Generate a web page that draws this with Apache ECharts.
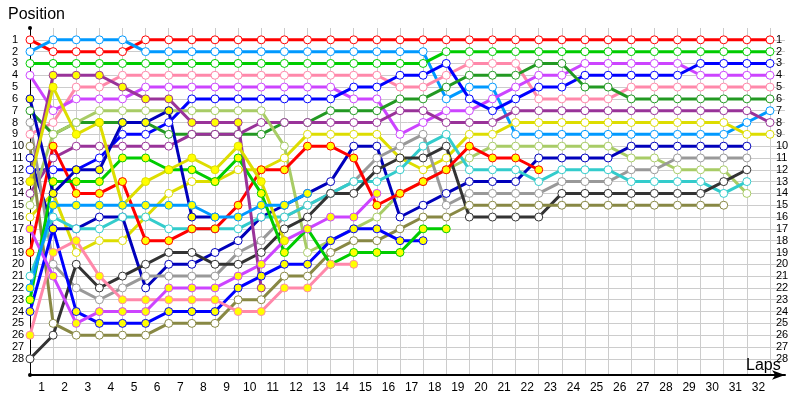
<!DOCTYPE html>
<html>
<head>
<meta charset="utf-8">
<script src="https://cdn.jsdelivr.net/npm/echarts@6/dist/echarts.min.js"></script>
<style>
  html, body { margin: 0; padding: 0; background: #fff; }
  #chart { width: 800px; height: 400px; }
</style>
</head>
<body>
<div id="chart"></div>
<script>
// lap labels along the bottom
const lapLabels = ['1','2','3','4','5','6','7','8','9','10','11','12','13','14','15','16',
  '17','18','19','20','21','22','23','24','25','26','27','28','29','30','31','32']

// position per lap (index 0 = grid, 1..32 = laps), null = not running
const redW = [1,2,2,2,2,1,1,1,1,1,1,1,1,1,1,1,1,1,1,1,1,1,1,1,1,1,1,1,1,1,1,1,1]
const lblueW = [2,1,1,1,1,2,2,2,2,2,2,2,2,2,2,2,2,2,6,5,5,9,9,9,9,9,9,9,9,9,9,8,7]
const greenW = [3,3,3,3,3,3,3,3,3,3,3,3,3,3,3,3,3,3,2,2,2,2,2,2,2,2,2,2,2,2,2,2,2]
const pinkW = [9,8,5,5,4,4,4,4,4,4,4,4,4,4,4,4,5,5,4,3,3,3,6,6,6,6,5,5,5,5,5,5,5]
const violetW = [4,7,6,6,6,5,5,5,5,5,5,5,5,5,6,6,9,8,7,7,6,5,4,4,3,3,3,3,3,4,4,4,4]
const blueW = [12,12,12,11,9,9,8,6,6,6,6,6,6,6,5,5,4,4,3,6,7,6,5,5,4,4,4,4,4,3,3,3,3]
const dkgreenW = [7,9,8,8,8,8,9,9,9,9,9,8,8,7,7,7,6,6,5,4,4,4,3,3,5,5,6,6,6,6,6,6,6]
const purpleW = [14,11,10,10,10,10,10,9,9,9,8,8,8,8,8,8,7,7,8,8,8,7,7,7,7,7,7,7,7,7,7,7,8]
const yellowW = [16,14,19,18,18,16,14,13,13,12,12,11,9,9,9,9,11,12,11,9,9,8,8,8,8,8,8,8,8,8,8,9,9]
const lgreenW = [15,9,8,7,7,7,7,7,7,7,7,10,19,18,17,16,14,13,12,11,10,10,10,10,10,10,11,11,12,12,12,14,null]
const dkblueW = [11,17,17,16,16,22,20,20,19,18,16,15,14,13,10,10,16,15,14,13,13,13,11,11,11,11,10,10,10,10,10,10,null]
const grayW = [8,20,22,23,22,21,21,21,21,19,18,16,15,14,13,11,10,9,15,14,14,14,14,13,13,13,12,12,11,11,11,11,null]
const cyanW = [21,16,17,17,16,16,17,17,17,17,16,16,15,14,13,13,12,10,9,12,12,12,13,12,12,12,13,13,13,13,14,13,null]
const dkgrayW = [28,26,20,22,21,20,19,19,20,20,19,17,16,14,14,12,11,11,10,16,16,16,16,14,14,14,14,14,14,14,13,12,null]
const oliveW = [10,25,26,26,26,26,25,25,25,23,23,21,21,19,18,18,17,16,16,15,15,15,15,15,15,15,15,15,15,15,15,null,null]
const redY = [19,10,14,14,13,18,18,17,17,15,12,12,10,10,11,15,14,13,12,10,11,11,12,null,null,null,null,null,null,null,null,null,null]
const blueY = [24,17,24,25,25,25,24,24,24,22,21,20,20,18,17,17,18,18,null,null,null,null,null,null,null,null,null,null,null,null,null,null,null]
const greenY = [23,13,13,13,11,11,12,12,13,11,14,19,17,20,19,19,19,17,17,null,null,null,null,null,null,null,null,null,null,null,null,null,null]
const pinkY = [26,19,18,21,23,23,23,23,23,24,24,22,22,20,20,null,null,null,null,null,null,null,null,null,null,null,null,null,null,null,null,null,null]
const violetY = [17,21,25,24,24,24,22,22,22,21,20,18,17,16,16,14,null,null,null,null,null,null,null,null,null,null,null,null,null,null,null,null,null]
const purpleY = [13,4,4,4,5,6,6,8,8,8,22,null,null,null,null,null,null,null,null,null,null,null,null,null,null,null,null,null,null,null,null,null,null]
const dkblueY = [6,14,12,12,8,8,7,16,16,null,null,null,null,null,null,null,null,null,null,null,null,null,null,null,null,null,null,null,null,null,null,null,null]
const yellowY = [13,5,9,8,15,13,12,11,12,10,13,18,null,null,null,null,null,null,null,null,null,null,null,null,null,null,null,null,null,null,null,null,null]
const lblueY = [22,15,15,15,15,15,15,15,16,16,15,15,14,null,null,null,null,null,null,null,null,null,null,null,null,null,null,null,null,null,null,null,null]

const drivers = [
  { color: '#ff0000', fill: '#ffffff', data: redW },
  { color: '#0099ff', fill: '#ffffff', data: lblueW },
  { color: '#00cc00', fill: '#ffffff', data: greenW },
  { color: '#ff88aa', fill: '#ffffff', data: pinkW },
  { color: '#cc44ff', fill: '#ffffff', data: violetW },
  { color: '#0000ff', fill: '#ffffff', data: blueW },
  { color: '#229922', fill: '#ffffff', data: dkgreenW },
  { color: '#993399', fill: '#ffffff', data: purpleW },
  { color: '#dddd00', fill: '#ffffff', data: yellowW },
  { color: '#a8cc66', fill: '#ffffff', data: lgreenW },
  { color: '#0000bb', fill: '#ffffff', data: dkblueW },
  { color: '#999999', fill: '#ffffff', data: grayW },
  { color: '#33cccc', fill: '#ffffff', data: cyanW },
  { color: '#333333', fill: '#ffffff', data: dkgrayW },
  { color: '#888844', fill: '#ffffff', data: oliveW },
  { color: '#ff0000', fill: '#ffff00', data: redY },
  { color: '#0000ff', fill: '#ffff00', data: blueY },
  { color: '#00cc00', fill: '#ffff00', data: greenY },
  { color: '#ff88aa', fill: '#ffff00', data: pinkY },
  { color: '#cc44ff', fill: '#ffff00', data: violetY },
  { color: '#993399', fill: '#ffff00', data: purpleY },
  { color: '#0000bb', fill: '#ffff00', data: dkblueY },
  { color: '#dddd00', fill: '#ffff00', data: yellowY },
  { color: '#0099ff', fill: '#ffff00', data: lblueY },
]

const chart = echarts.init(document.getElementById('chart'), null, { renderer: 'canvas' })

const series = drivers.map(d => ({
  type: 'line',
  xAxisIndex: 0,
  yAxisIndex: 0,
  data: d.data.map((v, i) => [i, v == null ? '-' : v]),
  symbol: 'circle',
  symbolSize: 8,
  showAllSymbol: true,
  lineStyle: { color: d.color, width: 3 },
  itemStyle: { color: d.fill, borderColor: d.color, borderWidth: 1 },
  emphasis: { disabled: true },
  silent: true,
}))

// split lines only at positions 1..28
const rowColors = []
for (let i = 1; i <= 29; i++) rowColors.push(i <= 28 ? '#cccccc' : 'rgba(0,0,0,0)')

const labelFont = 'Liberation Sans'

chart.setOption({
  animation: false,
  title: [
    { text: 'Position', left: 3, top: 2, textStyle: { fontSize: 16, fontWeight: 'normal', color: '#000', fontFamily: labelFont } },
    { text: 'Laps', left: 741, top: 353, textStyle: { fontSize: 16, fontWeight: 'normal', color: '#000', fontFamily: labelFont } },
  ],
  grid: [
    { left: 30, right: 15, top: 28, bottom: 25 },
    { left: 30, right: 30, top: 28, bottom: 25 },
  ],
  xAxis: [
    {
      type: 'value',
      gridIndex: 0,
      position: 'bottom',
      min: 0,
      max: 32.65,
      interval: 1,
      axisLine: { show: true, onZero: false, lineStyle: { color: '#000', width: 2 }, symbol: ['none', 'arrow'], symbolSize: [7, 13] },
      axisTick: { show: false },
      axisLabel: { show: false },
      splitLine: { show: true, showMaxLine: false, lineStyle: { color: '#cccccc', width: 1 } },
    },
    {
      type: 'category',
      gridIndex: 1,
      position: 'bottom',
      data: lapLabels,
      boundaryGap: true,
      axisLine: { show: false, onZero: false },
      axisTick: { show: false },
      axisLabel: { color: '#000', fontSize: 12, fontFamily: labelFont, margin: 7 },
      splitLine: { show: false },
    },
  ],
  yAxis: [
    {
      type: 'value',
      gridIndex: 0,
      inverse: true,
      min: 0,
      max: 29.37,
      interval: 1,
      axisLine: { show: true, onZero: false, lineStyle: { color: '#000', width: 1 }, symbol: ['circle', 'circle'], symbolSize: [4, 4] },
      axisTick: { show: false },
      axisLabel: {
        color: '#000', fontSize: 11, fontFamily: labelFont, align: 'left', margin: 18,
        formatter: v => (v >= 1 && v <= 28 ? String(v) : ''),
      },
      splitLine: { show: true, showMinLine: false, showMaxLine: false, lineStyle: { color: rowColors, width: 1 } },
    },
    {
      type: 'value',
      gridIndex: 0,
      position: 'right',
      offset: -9,
      inverse: true,
      min: 0,
      max: 29.37,
      interval: 1,
      axisLine: { show: false, onZero: false },
      axisTick: { show: false },
      axisLabel: {
        color: '#000', fontSize: 11, fontFamily: labelFont, align: 'left', margin: 0,
        formatter: v => (v >= 1 && v <= 28 ? String(v) : ''),
      },
      splitLine: { show: false },
    },
    {
      type: 'value',
      gridIndex: 1,
      show: false,
    },
  ],
  series,
})
</script>
</body>
</html>
